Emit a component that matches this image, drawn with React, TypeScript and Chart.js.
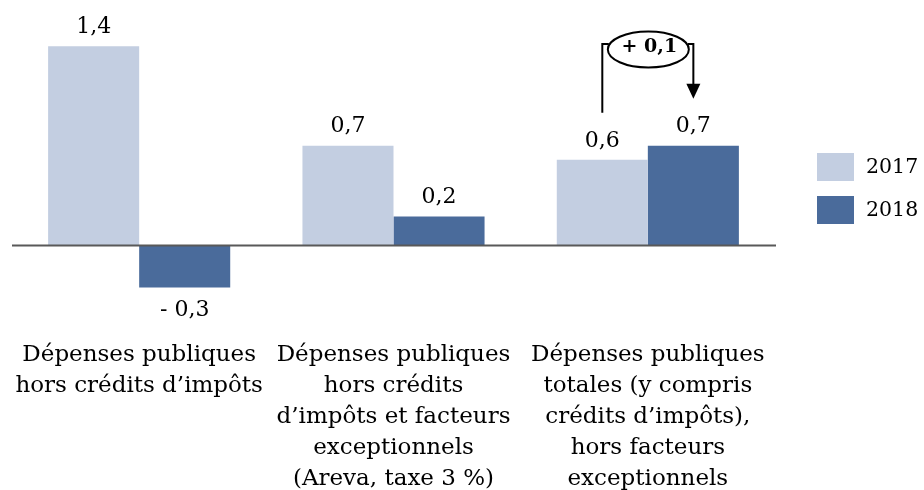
import React, { useEffect, useRef } from "react";
import { Chart, registerables } from "chart.js";

Chart.register(...registerables);

const categories: string[][] = [
  ["Dépenses publiques", "hors crédits d’impôts"],
  ["Dépenses publiques", "hors crédits", "d’impôts et facteurs", "exceptionnels", "(Areva, taxe 3 %)"],
  ["Dépenses publiques", "totales (y compris", "crédits d’impôts),", "hors facteurs", "exceptionnels"],
];
const seriesNames = ["2017", "2018"];
const values2017 = [1.4, 0.7, 0.6];
const values2018 = [-0.3, 0.2, 0.7];
const annotationText = "+ 0,1";

const COLORS = ["#c3cee1", "#4a6b9b"];
const FONT = "'DejaVu Serif', serif";

function fmt(v: number): string {
  const s = Math.abs(v).toFixed(1).replace(".", ",");
  return v < 0 ? "- " + s : s;
}

export default function App() {
  const ref = useRef<HTMLCanvasElement | null>(null);

  useEffect(() => {
    if (!ref.current) return;

    const overlay = {
      id: "overlay",
      afterDatasetsDraw(chart: any) {
        const { ctx, chartArea, scales } = chart;
        const y0 = scales.y.getPixelForValue(0);
        ctx.save();
        ctx.strokeStyle = "#595959";
        ctx.lineWidth = 2;
        ctx.beginPath();
        ctx.moveTo(chartArea.left, y0 + 0.5);
        ctx.lineTo(chartArea.right + 1, y0 + 0.5);
        ctx.stroke();

        ctx.fillStyle = "#000";
        ctx.font = `22px ${FONT}`;
        ctx.textAlign = "center";
        ctx.textBaseline = "middle";
        chart.data.datasets.forEach((ds: any, di: number) => {
          const meta = chart.getDatasetMeta(di);
          meta.data.forEach((bar: any, i: number) => {
            const v = ds.data[i];
            const y = v >= 0 ? bar.y - 19 : bar.y + 23;
            ctx.fillText(fmt(v), bar.x, y);
          });
        });

        // annotation between 2017 and 2018 of last category
        const last = categories.length - 1;
        const b1 = chart.getDatasetMeta(0).data[last];
        const b2 = chart.getDatasetMeta(1).data[last];
        const xL = b1.x;
        const xR = b2.x;
        const yTop = 44;
        const yStart = scales.y.getPixelForValue(values2017[last]) - 47;
        const yTip = scales.y.getPixelForValue(values2018[last]) - 47;
        const cx = (xL + xR) / 2 + 0.5;
        const cy = 49.5;
        const rx = 40.5;
        const ry = 18;
        ctx.strokeStyle = "#000";
        ctx.lineWidth = 2;
        ctx.beginPath();
        ctx.moveTo(xL, yStart);
        ctx.lineTo(xL, yTop);
        ctx.lineTo(cx - rx + 1, yTop);
        ctx.stroke();
        ctx.beginPath();
        ctx.ellipse(cx, cy, rx, ry, 0, 0, Math.PI * 2);
        ctx.stroke();
        ctx.beginPath();
        ctx.moveTo(cx + rx - 1, yTop);
        ctx.lineTo(xR, yTop);
        ctx.lineTo(xR, yTip - 14);
        ctx.stroke();
        ctx.fillStyle = "#000";
        ctx.beginPath();
        ctx.moveTo(xR - 7, yTip - 15);
        ctx.lineTo(xR + 7, yTip - 15);
        ctx.lineTo(xR, yTip);
        ctx.closePath();
        ctx.fill();
        ctx.font = `bold 19px ${FONT}`;
        ctx.fillText(annotationText, cx + 1, cy - 2);

        // legend
        ctx.textAlign = "left";
        ctx.font = `20.5px ${FONT}`;
        seriesNames.forEach((name, i) => {
          const top = 153 + i * 43;
          ctx.fillStyle = COLORS[i];
          ctx.fillRect(817, top, 37, 28);
          ctx.fillStyle = "#000";
          ctx.fillText(name, 866, top + 15);
        });
        ctx.restore();
      },
    };

    const chart = new Chart(ref.current, {
      type: "bar",
      data: {
        labels: categories,
        datasets: [
          {
            label: seriesNames[0],
            data: values2017,
            backgroundColor: COLORS[0],
            borderWidth: 0,
          },
          {
            label: seriesNames[1],
            data: values2018,
            backgroundColor: COLORS[1],
            borderWidth: 0,
          },
        ],
      },
      options: {
        responsive: false,
        animation: false,
        layout: { padding: { left: 12, right: 149, top: 18, bottom: 0 } },
        plugins: { legend: { display: false }, tooltip: { enabled: false } },
        datasets: { bar: { categoryPercentage: 0.716, barPercentage: 1 } },
        scales: {
          x: {
            grid: { display: false },
            border: { display: false },
            ticks: {
              color: "#000",
              font: { family: FONT, size: 23, lineHeight: "31px" },
              padding: 2,
              maxRotation: 0,
              autoSkip: false,
            },
            afterFit: (scale: any) => {
              scale.height = 160;
            },
          },
          y: {
            display: false,
            min: -0.6,
            max: 1.6,
          },
        },
      },
      plugins: [overlay],
    } as any);

    return () => chart.destroy();
  }, []);

  return (
    <div style={{ position: "absolute", left: 0, top: 0, width: 924, height: 490, background: "#fff" }}>
      <canvas ref={ref} width={924} height={490} style={{ width: 924, height: 490 }} />
    </div>
  );
}
